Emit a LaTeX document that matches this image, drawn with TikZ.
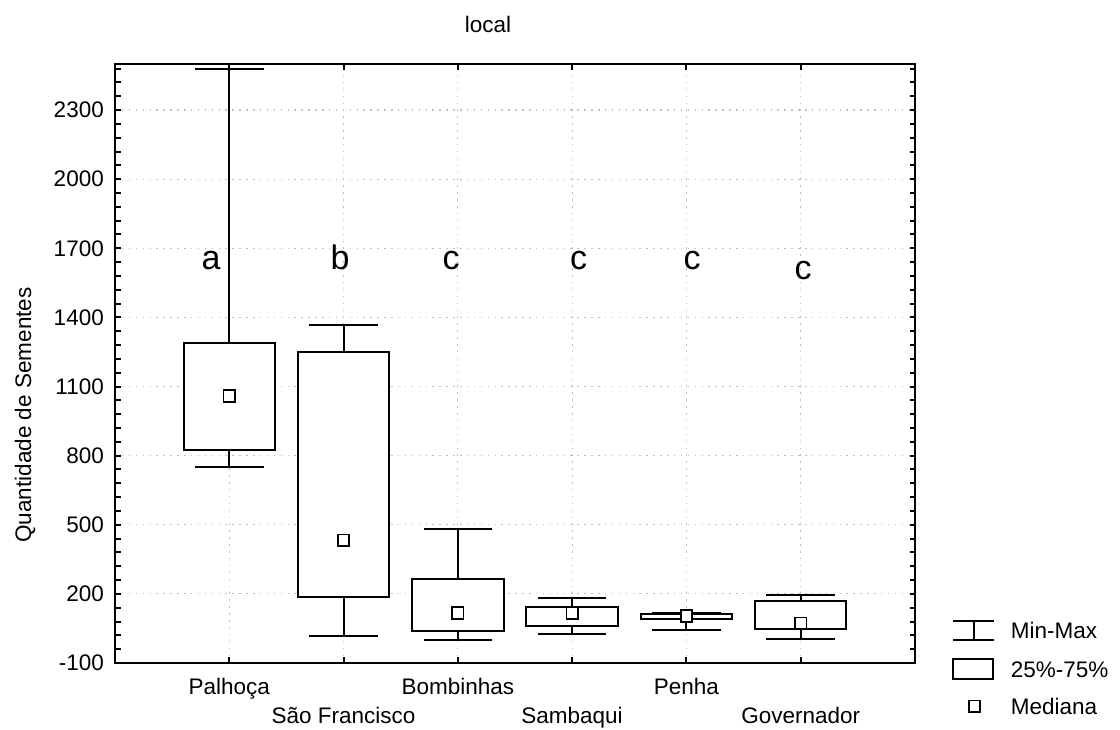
\documentclass[tikz,border=0pt]{standalone}
\usepackage{fontspec}
\setmainfont{Liberation Sans}
\newcommand{\bxplot}[7]{%
  \draw[whisk] (#1,#3) -- (#1,#2);
  \draw[whisk] (#1-0.3,#2) -- (#1+0.3,#2);
  \draw[whisk] (#1,#5) -- (#1,#6);
  \draw[whisk] (#1-0.3,#6) -- (#1+0.3,#6);
  \draw[boxst] (#1-0.4,#3) rectangle (#1+0.4,#5);
  \node[med] (#7) at (#1,#4) {};
}
\tikzset{
  gridln/.style={draw=gray!50, line width=1.2pt, dash pattern=on 1.5pt off 5.4pt},
  frame/.style={line width=2pt, line cap=rect},
  boxst/.style={draw, fill=white, line width=1.9pt},
  whisk/.style={line width=1.9pt},
  med/.style={draw, fill=white, rectangle, minimum size=11.5pt, inner sep=0pt, line width=1.7pt},
  lbl/.style={font=\fontsize{22.5}{27}\selectfont, inner sep=0pt},
  sig/.style={font=\fontsize{34}{40}\selectfont, inner sep=0pt, anchor=base},
}
\begin{document}
\begin{tikzpicture}[x=1pt,y=1pt]
\useasboundingbox (0,0) rectangle (1120,730);
\begin{scope}[shift={(115,90.04)}, x=114.2857pt, y=0.23038pt]
  % grid
  \foreach \v in {200,500,...,2300} \draw[gridln] (0,\v) -- (7,\v);
  \foreach \i in {1,...,6} \draw[gridln] (\i,-100) -- (\i,2500);
  % boxes
  \bxplot{1}{752}{825}{1059}{1289}{2477}{m1}
  \bxplot{2}{17}{188}{433}{1251}{1366}{m2}
  \bxplot{3}{0}{39}{117}{266}{480}{m3}
  \bxplot{4}{25}{61}{116}{144}{183}{m4}
  \bxplot{5}{43}{90}{104}{113}{117}{m5}
  \bxplot{6}{5}{49}{72}{170}{195}{m6}
  % frame and ticks
  \foreach \v in {-100,-40,...,2480} {
    \draw[frame] (0,\v) -- ++(4.5pt,0);
    \draw[frame] (7,\v) -- ++(-4.5pt,0);
  }
  \foreach \i in {1,...,6} {
    \draw[frame] (\i,-100) -- ++(0,4.5pt);
    \draw[frame] (\i,2500) -- ++(0,-4.5pt);
  }
  \draw[frame] (0,-100) rectangle (7,2500);
  \foreach \v in {-100,200,...,2300}
    \node[lbl, anchor=east] (yt\v) at ([xshift=-11pt]0,\v) {\v};
\end{scope}
% category labels
\node[lbl, anchor=base] (c1) at (229.3,35) {Palhoça};
\node[lbl, anchor=base] (c2) at (343.6,6) {São Francisco};
\node[lbl, anchor=base] (c3) at (457.9,35) {Bombinhas};
\node[lbl, anchor=base] (c4) at (572.1,6) {Sambaqui};
\node[lbl, anchor=base] (c5) at (686.4,35) {Penha};
\node[lbl, anchor=base] (c6) at (800.7,6) {Governador};
% title and axis label
\node[lbl, anchor=base] (title) at (488,697) {local};
\node[lbl, anchor=base, rotate=90] (ylab) at (31,315) {Quantidade de Sementes};
% significance letters
\node[sig] (s1) at (211,460) {a};
\node[sig] (s2) at (340,460) {b};
\node[sig] (s3) at (451,460) {c};
\node[sig] (s4) at (578.5,460) {c};
\node[sig] (s5) at (692,460) {c};
\node[sig] (s6) at (803,450) {c};
% legend
\coordinate (lg1a) at (953.3,109.3);
\coordinate (lg1b) at (953.3,90);
\draw[whisk] (lg1a) -- ++(40.7,0);
\draw[whisk] (lg1b) -- ++(40.7,0);
\draw[whisk] ([xshift=20.4pt]lg1a) -- ([xshift=20.4pt]lg1b);
\coordinate (lg2a) at (953.3,51.3);
\coordinate (lg2b) at (993.3,70.7);
\draw[boxst] (lg2a) rectangle (lg2b);
\node[med] (lg3) at (974.5,23.8) {};
\node[lbl, anchor=base west] (lt1) at (1010.7,91) {Min-Max};
\node[lbl, anchor=base west] (lt2) at (1010.7,52.3) {25\%-75\%};
\node[lbl, anchor=base west] (lt3) at (1010.7,15) {Mediana};
\end{tikzpicture}
\end{document}
